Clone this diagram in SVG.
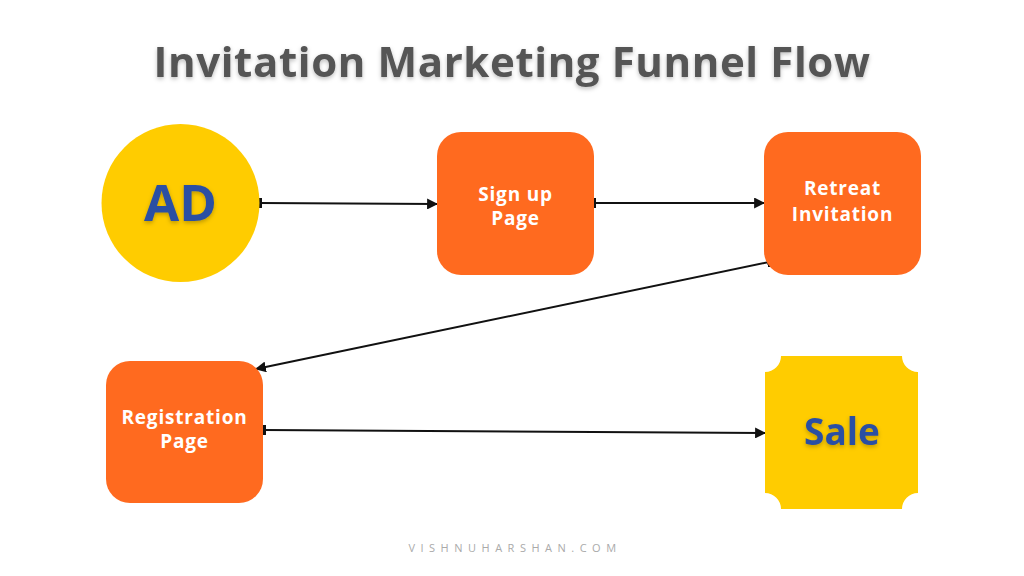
<svg xmlns="http://www.w3.org/2000/svg" width="1024" height="576" viewBox="0 0 1024 576">
<defs>
<style>
.title{font-family:"Open Sans","DejaVu Sans",sans-serif;font-weight:700;font-size:42px;fill:#555555;letter-spacing:0.6px;}
.lbl{font-family:"Open Sans","DejaVu Sans",sans-serif;font-weight:700;font-size:19px;fill:#ffffff;letter-spacing:0.8px;}
.big{font-family:"Open Sans","DejaVu Sans",sans-serif;font-weight:700;fill:#2B4FA3;}
.box{fill:#FF6A1F;}
.yel{fill:#FFCC00;}
.edge{stroke:#111111;stroke-width:2;fill:none;marker-start:url(#tick);marker-end:url(#arr);}
.wm{font-family:"Open Sans","DejaVu Sans",sans-serif;font-size:11px;fill:#aaaaaa;letter-spacing:5.5px;}
</style>
<marker id="arr" viewBox="0 0 10 10" refX="9" refY="5" markerWidth="5.5" markerHeight="5.5" orient="auto" markerUnits="strokeWidth">
<path d="M0,0 L10,5 L0,10 z" fill="#111111"/>
</marker>
<marker id="tick" viewBox="0 0 4 10" refX="2" refY="5" markerWidth="2" markerHeight="5" orient="auto" markerUnits="strokeWidth">
<rect x="0" y="0" width="4" height="10" fill="#111111"/>
</marker>
<filter id="sh" x="-10%" y="-30%" width="120%" height="160%">
<feDropShadow dx="0" dy="2" stdDeviation="2" flood-color="#000" flood-opacity="0.25"/>
</filter>
</defs>
<rect width="1024" height="576" fill="#ffffff"/>
<text class="title" x="512" y="77" text-anchor="middle" filter="url(#sh)">Invitation Marketing Funnel Flow</text>

<g id="connectors">
<line class="edge" x1="260" y1="203" x2="437" y2="204"/>
<line class="edge" x1="594" y1="203" x2="764" y2="203"/>
<line class="edge" x1="769" y1="262" x2="256" y2="369"/>
<line class="edge" x1="264" y1="430" x2="765" y2="433"/>
</g>

<g id="ad">
<circle class="yel" cx="180.5" cy="203" r="79"/>
<text class="big" x="180.5" y="221" font-size="51" text-anchor="middle" filter="url(#sh)">AD</text>
</g>

<g id="signup">
<rect class="box" x="437" y="132" width="157" height="143" rx="24"/>
<text class="lbl" x="515.5" text-anchor="middle"><tspan x="515.5" y="201">Sign up</tspan><tspan x="515.5" y="225">Page</tspan></text>
</g>

<g id="retreat">
<rect class="box" x="764" y="132" width="157" height="143" rx="24"/>
<text class="lbl" x="842.5" text-anchor="middle"><tspan x="842.5" y="195">Retreat</tspan><tspan x="842.5" y="221">Invitation</tspan></text>
</g>

<g id="registration">
<rect class="box" x="106" y="361" width="157" height="142" rx="24"/>
<text class="lbl" x="184.5" text-anchor="middle"><tspan x="184.5" y="424">Registration</tspan><tspan x="184.5" y="448">Page</tspan></text>
</g>

<g id="sale">
<path class="yel" d="M781,356 L902,356 A16,16 0 0 0 918,372 L918,493 A16,16 0 0 0 902,509 L781,509 A16,16 0 0 0 765,493 L765,372 A16,16 0 0 0 781,356 Z"/>
<text class="big" x="842" y="445" font-size="37" text-anchor="middle" filter="url(#sh)">Sale</text>
</g>

<text class="wm" x="515" y="552" text-anchor="middle">VISHNUHARSHAN.COM</text>
</svg>
